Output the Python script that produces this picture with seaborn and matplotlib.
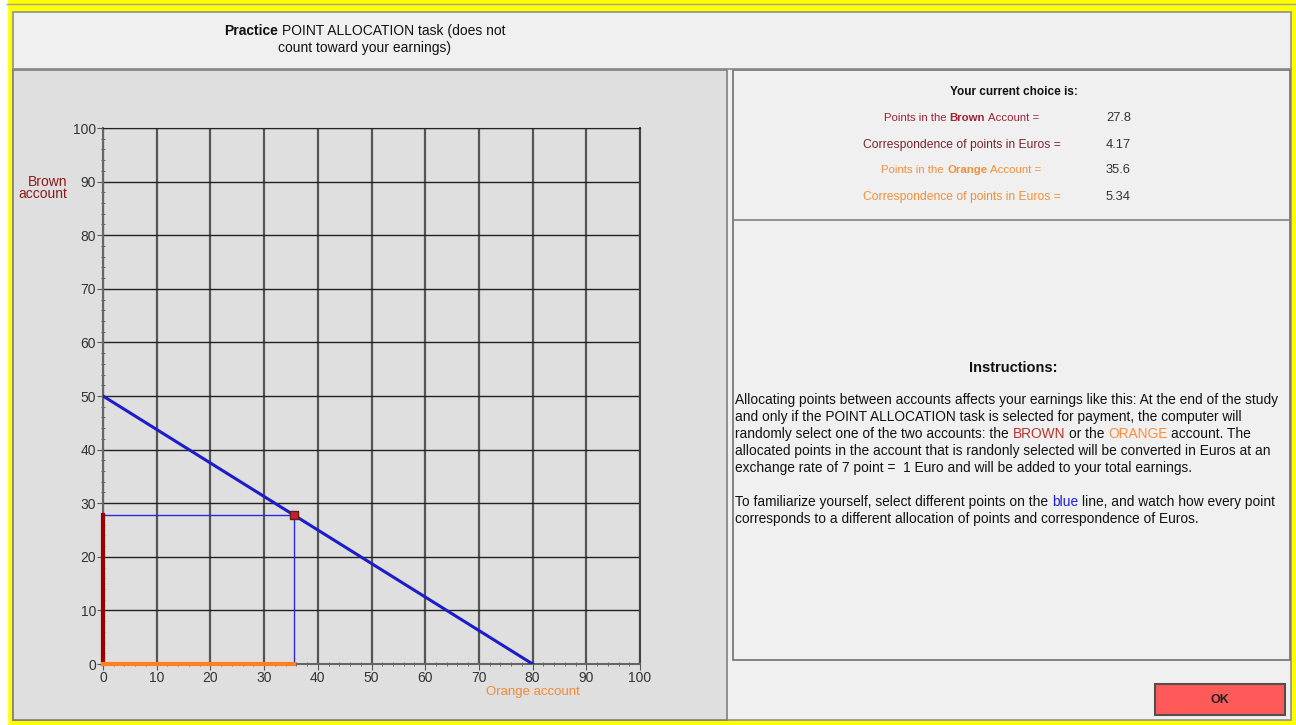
import matplotlib
matplotlib.use("Agg")
import matplotlib.pyplot as plt
import seaborn as sns
from matplotlib.patches import Rectangle

# values shown on the screen
budget_x = [0, 80]
budget_y = [50, 0]
brown_points = 27.8
orange_points = 35.6
brown_euros = 4.17
orange_euros = 5.34
axis_ticks = list(range(0, 101, 10))
minor_ticks = list(range(0, 101, 2))

title_runs = [("Practice", "#111111", "bold"), (" POINT ALLOCATION task (does not", "#111111", "normal")]
title_line2 = "count toward your earnings)"

instr_lines = [
    [("Allocating points between accounts affects your earnings like this: At the end of the study", "#111111")],
    [("and only if the POINT ALLOCATION task is selected for payment, the computer will", "#111111")],
    [("randomly select one of the two accounts: the ", "#111111"), ("BROWN", "#b8322c"),
     (" or the ", "#111111"), ("ORANGE", "#ff8c3a"), (" account. The", "#111111")],
    [("allocated points in the account that is randonly selected will be converted in Euros at an", "#111111")],
    [("exchange rate of 7 point =  1 Euro and will be added to your total earnings.", "#111111")],
    [],
    [("To familiarize yourself, select different points on the ", "#111111"), ("blue", "#1f1fdc"),
     (" line, and watch how every point", "#111111")],
    [("corresponds to a different allocation of points and correspondence of Euros.", "#111111")],
]

plt.rcParams['font.family'] = ['Liberation Sans', 'DejaVu Sans']

W, H = 1296, 725
fig = plt.figure(figsize=(W / 100, H / 100), dpi=100, facecolor="#ffff00")
bg = fig.add_axes([0, 0, 1, 1])
bg.set_xlim(0, W)
bg.set_ylim(H, 0)
bg.axis("off")
r = fig.canvas.get_renderer()


def tw(s, size, weight="normal"):
    t = bg.text(0, 0, s, fontsize=size, fontweight=weight)
    w = t.get_window_extent(r).width
    t.remove()
    return w


def adv(s, size, weight="normal"):
    return tw("|" + s + "|", size, weight) - tw("||", size, weight)


def runs_width(runs, size):
    return sum(adv(t, size, wgt) for t, c, wgt in runs)


def draw_runs(x, y, runs, size, ha="left"):
    total = runs_width(runs, size)
    if ha == "center":
        x = x - total / 2
    for t, c, wgt in runs:
        lead = len(t) - len(t.lstrip(" "))
        bg.text(x + adv(" " * lead, size, wgt) if lead else x, y, t.strip(), fontsize=size,
                fontweight=wgt, color=c, va="center", ha="left")
        x += adv(t, size, wgt)


def fit(runs, target):
    return 10 * target / runs_width(runs, 10)


# frame and panels
bg.add_patch(Rectangle((0, 0), 7, H, color="white", zorder=0))
bg.plot([7, W], [4, 4], color="#a0a0a0", lw=1)
bg.add_patch(Rectangle((13, 12), 1278, 708, facecolor="#f0f0f0", edgecolor="#909090", lw=1.2, zorder=0))
bg.plot([13, 1291], [69, 69], color="#888888", lw=1.2)
bg.add_patch(Rectangle((13, 70), 714, 650, facecolor="#dfdfdf", edgecolor="#808080", lw=1.2, zorder=0))
bg.add_patch(Rectangle((733, 70), 557, 590, facecolor="#f0f0f0", edgecolor="#707070", lw=1.2, zorder=0))
bg.plot([733, 1290], [220, 220], color="#808080", lw=1.2)

# title
ts = fit(title_runs, 282)
draw_runs(365, 31, title_runs, ts, ha="center")
bg.text(364, 48, title_line2, fontsize=ts, color="#111111", ha="center", va="center")

# current choice panel
draw_runs(1014, 92, [("Your current choice is:", "#111111", "bold")], 8.5, ha="center")
row1 = [("Points in the ", "#9b2335", "normal"), ("Brown", "#9b2335", "bold"), (" Account =", "#9b2335", "normal")]
row3 = [("Points in the ", "#f0903a", "normal"), ("Orange", "#f0903a", "bold"), (" Account =", "#f0903a", "normal")]
row2 = [("Correspondence of points in Euros =", "#7a2530", "normal")]
row4 = [("Correspondence of points in Euros =", "#f0903a", "normal")]
s_small = fit(row1, 155)
s_big = fit(row2, 198)
draw_runs(961, 118, row1, s_small, ha="center")
draw_runs(962, 145, row2, s_big, ha="center")
draw_runs(961, 170, row3, s_small, ha="center")
draw_runs(962, 197, row4, s_big, ha="center")
for yy, v in zip([118, 145, 170, 197], [brown_points, brown_euros, orange_points, orange_euros]):
    bg.text(1106, yy, f"{v:g}", fontsize=s_big + 0.5, color="#333333", va="center")

# instructions
draw_runs(1013, 368, [("Instructions:", "#111111", "bold")], 10.5, ha="center")
isz = fit([(instr_lines[0][0][0], "k", "normal")], 543)
for i, line in enumerate(instr_lines):
    if line:
        draw_runs(735, 400 + 17 * i, [(t, c, "normal") for t, c in line], isz)

# OK button
bg.add_patch(Rectangle((1155, 684), 130, 31, facecolor="#ff5a5a", edgecolor="#505050", lw=1.5, zorder=1))
bg.text(1220, 700, "OK", fontsize=9, fontweight="bold", color="#222222", ha="center", va="center")

# chart
ax = fig.add_axes([103 / W, (H - 664) / H, 537 / W, 536 / H])
ax.set_facecolor("#dfdfdf")
ax.set_xlim(0, 100)
ax.set_ylim(0, 100)
ax.set_xticks(axis_ticks)
ax.set_yticks(axis_ticks)
ax.set_xticks(minor_ticks, minor=True)
ax.set_yticks(minor_ticks, minor=True)
ax.xaxis.grid(True, color="#555555", lw=1.6)
ax.yaxis.grid(True, color="#222222", lw=1.0)
ax.set_axisbelow(True)
for side in ["left", "bottom"]:
    ax.spines[side].set_color("#666666")
    ax.spines[side].set_linewidth(1.5)
ax.spines["top"].set_color("#222222")
ax.spines["right"].set_color("#444444")
ax.spines["right"].set_linewidth(1.5)
ax.tick_params(which="major", length=4, color="#555555", labelcolor="#333333", labelsize=10, pad=1)
ax.tick_params(which="minor", length=3, color="#555555", direction="inout")

sns.lineplot(x=budget_x, y=budget_y, ax=ax, color="#1c1cc8", lw=2.2, zorder=4)
ax.plot([0, orange_points], [brown_points, brown_points], color="#2a2ae0", lw=1, zorder=3)
ax.plot([orange_points, orange_points], [brown_points, 0], color="#2a2ae0", lw=1, zorder=3)
ax.plot([0, 0], [0, brown_points], color="#990000", lw=3, zorder=5, clip_on=False)
ax.plot([0, orange_points], [0, 0], color="#ff8020", lw=3, zorder=5, clip_on=False)
sns.scatterplot(x=[orange_points], y=[brown_points], ax=ax, marker="s", s=40,
                color="#c82030", edgecolor="#602020", linewidth=1, zorder=6)

bg.text(67, 188, "Brown\naccount", fontsize=10, color="#8b1a1a", ha="right", va="center", linespacing=0.85)
bg.text(533, 692, "Orange account", fontsize=9.5, color="#f08a3a", ha="center", va="center")

fig.savefig("out.png", dpi=100, facecolor=fig.get_facecolor())
